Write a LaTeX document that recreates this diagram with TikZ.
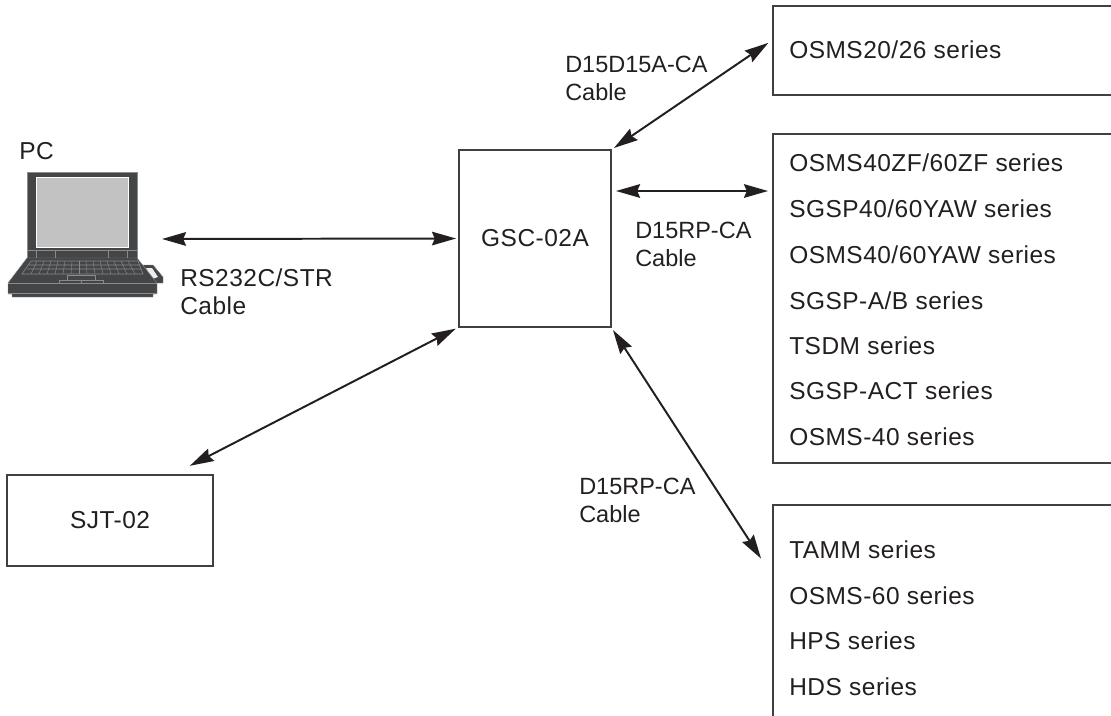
\documentclass[tikz,border=0pt]{standalone}
\usepackage{fontspec}
\usepackage{xcolor}
\usetikzlibrary{arrows.meta,positioning,calc}
\setmainfont{Liberation Sans}
\newfontfamily\serfont[LetterSpace=2]{Liberation Sans}
\definecolor{ink}    {HTML}{231F20}
\definecolor{boxline}{HTML}{404040}
\definecolor{lidgray}{HTML}{444547}
\definecolor{keyline}{HTML}{8A8B8D}
\tikzset{
  unitbox/.style={draw=boxline, line width=1pt, fill=white, text=ink, outer sep=0pt,
                  font=\fontsize{17.4}{19}\serfont},
  label/.style={text=ink, anchor=west, align=left, inner sep=0pt},
  serieslabel/.style={label, font=\fontsize{17.4}{19}\serfont},
  cable/.style={{Stealth[length=6mm,width=3.4mm,inset=.7mm]}-{Stealth[length=6mm,width=3.4mm,inset=.7mm]}, ink, line width=1.4pt},
  lap/.style={fill=lidgray, draw=keyline, line width=.3pt},
}
\begin{document}
\begin{tikzpicture}[x=0.025cm,y=-0.025cm,font=\fontsize{16.7}{19}\selectfont]
  \clip (0,0) rectangle (1111,716);
  % boxes
  \node[unitbox, minimum width=3.8cm, minimum height=4.425cm] (gsc) at (535,238.5) {GSC-02A};
  \node[unitbox, minimum width=5.15cm, minimum height=2.275cm] (sjt) at (110,520.5) {SJT-02};
  \node[unitbox, minimum width=8.75cm, minimum height=2.225cm, anchor=north west] (osmsa) at (773,6) {};
  \node[unitbox, minimum width=8.75cm, minimum height=8.225cm, anchor=north west] (osmsb) at (773,134) {};
  \node[unitbox, minimum width=8.75cm, minimum height=7.5cm, anchor=north west] (tamm) at (773,505) {};
  \node[serieslabel] (lab20) at (789,50) {OSMS20/26 series};
  \foreach \y/\n/\lab in {
     163/a/{OSMS40ZF/60ZF series},
     209/b/{SGSP40/60YAW series},
     255/c/{OSMS40/60YAW series},
     301/d/{SGSP-A/B series},
     346/e/{TSDM series},
     391/f/{SGSP-ACT series},
     437/g/{OSMS-40 series},
     550/h/{TAMM series},
     596/i/{OSMS-60 series},
     641/j/{HPS series},
     687/k/{HDS series}} {
    \node[serieslabel] (ser\n) at (789,\y) {\lab};
  }
  % laptop
  \node[serieslabel] (pc) at (19,151) {PC};
  \draw[lap] (143,265) -- (153,265) -- (163,277) -- (163,283) -- (150,283) -- cycle;
  \fill[gray!15] (146,268) -- (152,268) -- (158,277) -- (152,279) -- cycle;
  \draw[lap] (27,172) rectangle (137,258);
  \shade[top color=black!24, middle color=black!4, bottom color=black!24, shading angle=135,
         draw=white, line width=.3pt] (36,177) rectangle (128,247);
  \draw[keyline, line width=.3pt] (27,250) -- (137,250) (36,250) -- (36,258) (55,250) -- (55,258)
        (108,250) -- (108,258) (127,250) -- (127,258);
  \draw[lap] (27,258) -- (137,258) -- (157,283) -- (157,294) -- (153,294) -- (153,297)
        -- (12,297) -- (12,294) -- (8,294) -- (8,283) -- cycle;
  \draw[keyline, line width=.3pt] (8,283) -- (157,283) (8,293) -- (157,293);
  \draw[keyline, line width=.4pt] (31,261) -- (138,261) -- (143,274) -- (22,274) -- cycle
        (29,265) -- (140,265) (27,269) -- (141,269);
  \foreach \k in {0,...,13} {
    \draw[keyline, line width=.3pt] (37+\k*7,261) -- (31+\k*8,274);
  }
  \draw[keyline, line width=.4pt] (67,275) rectangle (95,280) (59,280) rectangle (103,283) (81,280) -- (81,283);
  \coordinate (pcport) at (162,239);
  % cables
  \draw[cable, shorten >=.075cm] (pcport) -- (gsc.west);
  \draw[cable, shorten <=.125cm, shorten >=.125cm] ([yshift=1.1875cm]gsc.east) -- ([yshift=2.6875cm]osmsb.west);
  \draw[cable, shorten <=.09cm, shorten >=.14cm] (gsc.north east) -- ([yshift=.27cm]osmsa.west);
  \draw[cable, shorten <=.09cm, shorten >=.55cm] (gsc.south east) -- ([yshift=-1.8cm]tamm.north west);
  \draw[cable, shorten <=.5cm, shorten >=.09cm] ([xshift=-1.025cm]sjt.north east) -- (gsc.south west);
  % cable names
  \node[serieslabel] (rscab) at (180,292) {RS232C/STR\\[1pt]Cable};
  \node[label] (dacab) at (565,78) {D15D15A-CA\\[1pt]Cable};
  \node[label] (rpcab) at (635,244) {D15RP-CA\\[1pt]Cable};
  \node[label] (rpcabb) at (579,500) {D15RP-CA\\[1pt]Cable};
\end{tikzpicture}
\end{document}
